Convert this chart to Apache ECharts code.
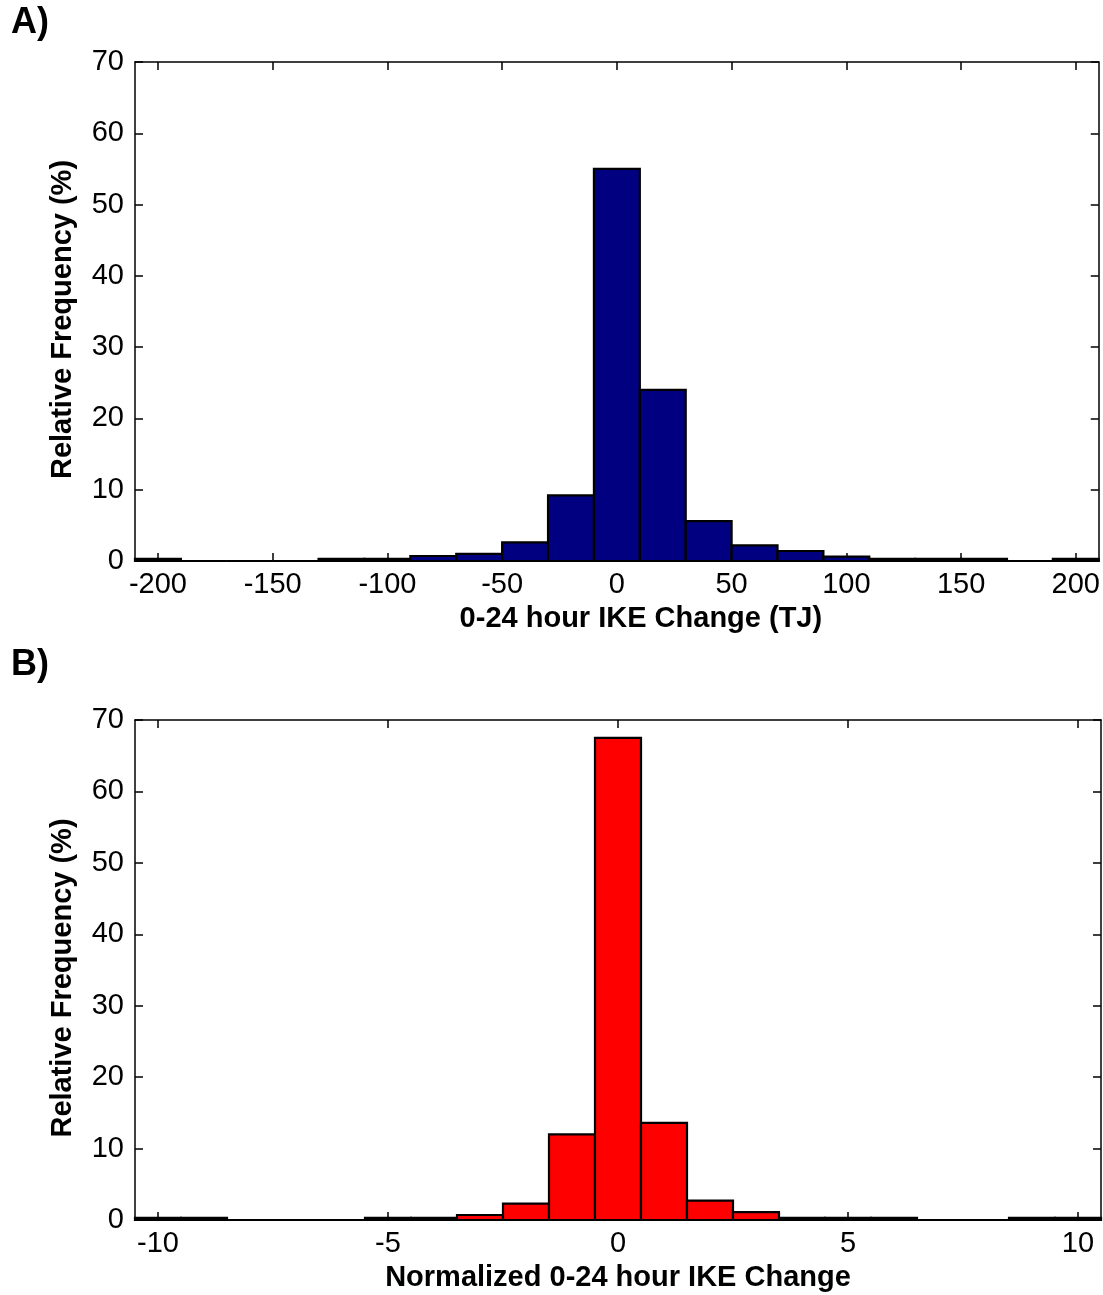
<!DOCTYPE html>
<html><head><meta charset="utf-8">
<script src="https://cdn.jsdelivr.net/npm/echarts@6/dist/echarts.min.js"></script>
<style>html,body{margin:0;padding:0;background:#fff}#c{width:1103px;height:1295px}</style>
</head><body><div id="c"></div>
<script>
// Panel A: 0-24 hour IKE change (TJ), bin width 20
const centersA = [-200,-180,-160,-140,-120,-100,-80,-60,-40,-20,0,20,40,60,80,100,120,140,160,180,200];
const valuesA  = [0.3,0,0,0,0.3,0.3,0.7,1.0,2.6,9.2,55,24,5.6,2.2,1.4,0.6,0.3,0.3,0.3,0,0.3];
const ticksA   = [-200,-150,-100,-50,0,50,100,150,200];
// Panel B: normalized change, bin width 1
const centersB = [-10,-9,-8,-7,-6,-5,-4,-3,-2,-1,0,1,2,3,4,5,6,7,8,9,10];
const valuesB  = [0.3,0.3,0,0,0,0.3,0.3,0.7,2.3,12.0,67.5,13.6,2.7,1.1,0.3,0.3,0.3,0,0,0.3,0.3];
const ticksB   = [-10,-5,0,5,10];

const FONT = 'Liberation Sans, Arial, sans-serif';
const chart = echarts.init(document.getElementById('c'));

function xAxes(gi, min, max, ticks, name, pad){
  return [{
    type:'value', gridIndex:gi, position:'bottom', min:min, max:max,
    name:name, nameLocation:'middle', nameGap:43,
    nameTextStyle:{fontFamily:FONT, fontSize:29, fontWeight:'bold', color:'#000', padding:pad},
    axisLine:{show:true, onZero:false, lineStyle:{color:'#000', width:1.5}},
    axisTick:{show:true, inside:true, length:8, customValues:ticks, lineStyle:{color:'#000', width:1.5}},
    axisLabel:{show:true, customValues:ticks, margin:9, fontFamily:FONT, fontSize:29, color:'#000'},
    splitLine:{show:false}
  },{
    type:'value', gridIndex:gi, position:'top', min:min, max:max,
    axisLine:{show:true, onZero:false, lineStyle:{color:'#000', width:1.5}},
    axisTick:{show:true, inside:true, length:8, customValues:ticks, lineStyle:{color:'#000', width:1.5}},
    axisLabel:{show:false}, splitLine:{show:false}
  }];
}
function yAxes(gi){
  return [{
    type:'value', gridIndex:gi, position:'left', min:0, max:70, interval:10,
    name:'Relative Frequency (%)', nameLocation:'middle', nameGap:58,
    nameTextStyle:{fontFamily:FONT, fontSize:29, fontWeight:'bold', color:'#000', padding:[0,16,0,0]},
    axisLine:{show:true, onZero:false, lineStyle:{color:'#000', width:1.5}},
    axisTick:{show:true, inside:true, length:8, lineStyle:{color:'#000', width:1.5}},
    axisLabel:{show:true, margin:11, fontFamily:FONT, fontSize:29, color:'#000'},
    splitLine:{show:false}
  },{
    type:'value', gridIndex:gi, position:'right', min:0, max:70, interval:10,
    axisLine:{show:true, onZero:false, lineStyle:{color:'#000', width:1.5}},
    axisTick:{show:true, inside:true, length:8, lineStyle:{color:'#000', width:1.5}},
    axisLabel:{show:false}, splitLine:{show:false}
  }];
}
function histSeries(xi, yi, centers, values, width, color){
  return {
    type:'custom', xAxisIndex:xi, yAxisIndex:yi,
    data: centers.map((c,i)=>[c, values[i]]),
    renderItem: function(params, api){
      const c = api.value(0), v = api.value(1);
      const p0 = api.coord([c - width/2, v]);
      const p1 = api.coord([c + width/2, 0]);
      return {type:'rect', shape:{x:p0[0], y:p0[1], width:p1[0]-p0[0], height:p1[1]-p0[1]},
              style:{fill:color, stroke:'#000', lineWidth:2.2}};
    }
  };
}

chart.setOption({
  animation:false,
  grid:[
    {left:135, top:62, width:966, height:499},
    {left:135, top:720, width:966, height:500}
  ],
  xAxis:[].concat(
    xAxes(0,-210,210,ticksA,'0-24 hour IKE Change (TJ)',[0,0,0,48]),
    xAxes(1,-10.5,10.5,ticksB,'Normalized 0-24 hour IKE Change',[0,0,0,0])),
  yAxis:[].concat(yAxes(0), yAxes(1)),
  graphic:[
    {type:'text', left:11, top:5, style:{text:'A)', font:'bold 36px '+FONT, fill:'#000'}},
    {type:'text', left:11, top:647, style:{text:'B)', font:'bold 36px '+FONT, fill:'#000'}}
  ],
  series:[
    histSeries(0, 0, centersA, valuesA, 20, '#000080'),
    histSeries(2, 2, centersB, valuesB, 1, '#FF0000')
  ]
});
</script></body></html>
